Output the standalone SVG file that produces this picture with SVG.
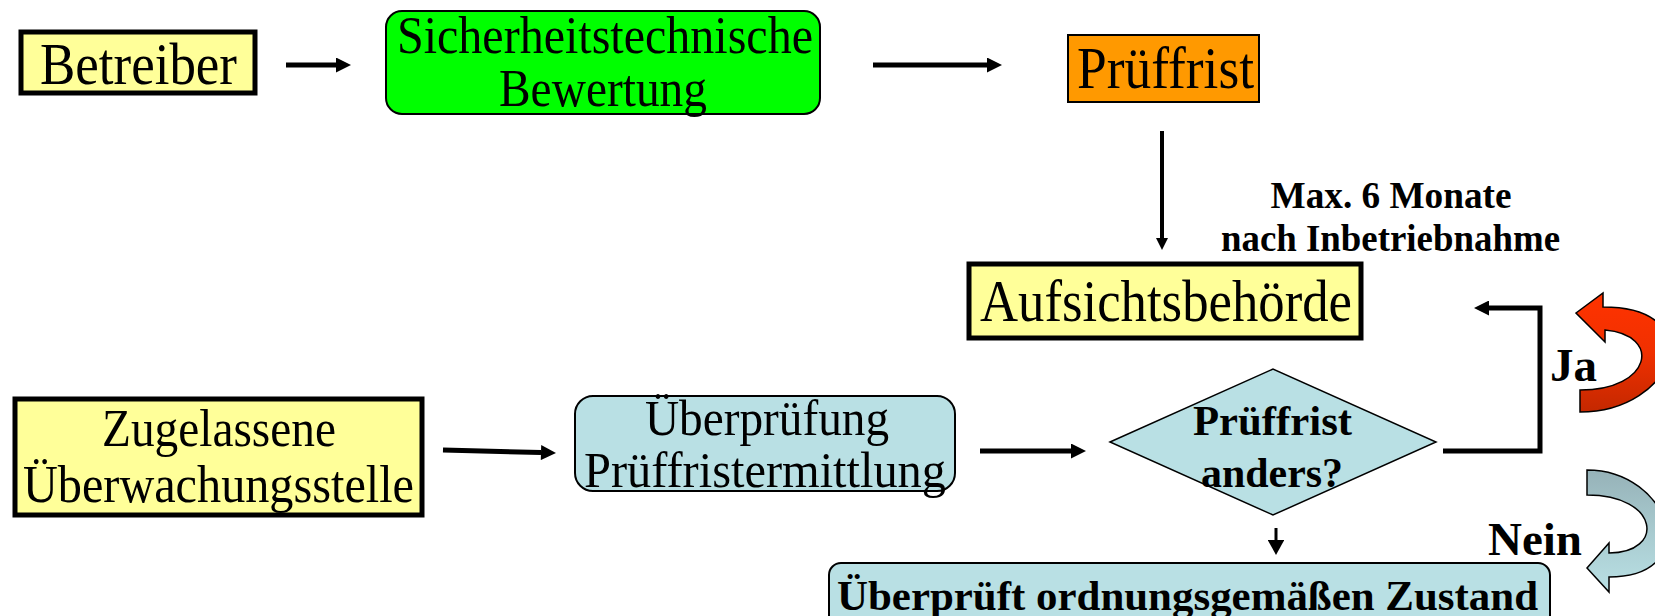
<svg xmlns="http://www.w3.org/2000/svg" width="1655" height="616" viewBox="0 0 1655 616">
<style>
.t{font-family:"Liberation Serif","Times New Roman",serif;fill:#000;text-anchor:middle}
.b{font-weight:bold}
.thick{stroke:#000;stroke-width:5}
.thin{stroke:#000;stroke-width:2}
.con{fill:none;stroke:#000}
</style>
<defs>
<marker id="ah" viewBox="0 0 10 10" refX="0" refY="5" markerWidth="3.2" markerHeight="3" orient="auto" markerUnits="strokeWidth">
<path d="M0,0 L10,5 L0,10 Z" fill="#000"/>
</marker>
<marker id="ahs" viewBox="0 0 10 10" refX="0" refY="5" markerWidth="5" markerHeight="5.5" orient="auto" markerUnits="strokeWidth" preserveAspectRatio="none">
<path d="M0,0 L10,5 L0,10 Z" fill="#000"/>
</marker>
<linearGradient id="red" x1="0" y1="0" x2="0" y2="1">
<stop offset="0" stop-color="#FF3300"/>
<stop offset="0.5" stop-color="#F03000"/>
<stop offset="1" stop-color="#C42800"/>
</linearGradient>
<linearGradient id="blu" x1="0" y1="0" x2="0" y2="1">
<stop offset="0" stop-color="#96B2B8"/>
<stop offset="0.5" stop-color="#A8CACF"/>
<stop offset="1" stop-color="#B9E0E4"/>
</linearGradient>
</defs>

<g id="connectors">
<path class="con" stroke-width="5" d="M286,65 H336" marker-end="url(#ah)"/>
<path class="con" stroke-width="5" d="M873,65 H987" marker-end="url(#ah)"/>
<path class="con" stroke-width="4" d="M1162,131 V238" marker-end="url(#ah)"/>
<path class="con" stroke-width="5" d="M443,450 L541,452.6" marker-end="url(#ah)"/>
<path class="con" stroke-width="5" d="M980,451 H1071" marker-end="url(#ah)"/>
<path class="con" stroke-width="5" d="M1443,451 H1540 V308 H1489" marker-end="url(#ah)"/>
<path class="con" stroke-width="3" d="M1276,528 V540" marker-end="url(#ahs)"/>
</g>

<g id="betreiber">
<rect x="21" y="32" width="234" height="61" fill="#FFFF99" class="thick"/>
<text class="t" x="138.5" y="84" font-size="59" textLength="197" lengthAdjust="spacingAndGlyphs">Betreiber</text>
</g>

<g id="bewertung">
<rect x="386" y="11" width="434" height="103" rx="16" fill="#00FF00" class="thin"/>
<text class="t" x="605" y="53" font-size="52" textLength="416" lengthAdjust="spacingAndGlyphs">Sicherheitstechnische</text>
<text class="t" x="603" y="106" font-size="52" textLength="208" lengthAdjust="spacingAndGlyphs">Bewertung</text>
</g>

<g id="prueffrist">
<rect x="1068" y="35" width="191" height="67" fill="#FF9900" class="thin"/>
<text class="t" x="1165.5" y="88" font-size="59" textLength="177" lengthAdjust="spacingAndGlyphs">Prüffrist</text>
</g>

<g id="label-max">
<text class="t b" x="1391" y="208" font-size="37" textLength="241" lengthAdjust="spacingAndGlyphs">Max. 6 Monate</text>
<text class="t b" x="1390.5" y="251" font-size="37" textLength="339" lengthAdjust="spacingAndGlyphs">nach Inbetriebnahme</text>
</g>

<g id="aufsicht">
<rect x="969" y="264" width="392" height="74" fill="#FFFF99" class="thick"/>
<text class="t" x="1166" y="321" font-size="59" textLength="372" lengthAdjust="spacingAndGlyphs">Aufsichtsbehörde</text>
</g>

<g id="zugelassene">
<rect x="15" y="399" width="407" height="116" fill="#FFFF99" class="thick"/>
<text class="t" x="219" y="446" font-size="52" textLength="234" lengthAdjust="spacingAndGlyphs">Zugelassene</text>
<text class="t" x="218.5" y="502" font-size="52" textLength="391" lengthAdjust="spacingAndGlyphs">Überwachungsstelle</text>
</g>

<g id="ueberpruefung">
<rect x="575" y="396" width="380" height="95" rx="18" fill="#B9E0E4" class="thin"/>
<text class="t" x="767" y="435" font-size="51" textLength="244" lengthAdjust="spacingAndGlyphs">Überprüfung</text>
<text class="t" x="765" y="487" font-size="51" textLength="362" lengthAdjust="spacingAndGlyphs">Prüffristermittlung</text>
</g>

<g id="entscheidung">
<polygon points="1110,442 1273,369 1436,442 1273,515" fill="#B9E0E4" stroke="#000" stroke-width="1.5"/>
<text class="t b" x="1272.5" y="435" font-size="43" textLength="159" lengthAdjust="spacingAndGlyphs">Prüffrist</text>
<text class="t b" x="1272" y="487" font-size="43" textLength="142" lengthAdjust="spacingAndGlyphs">anders?</text>
</g>

<g id="zustand">
<rect x="829" y="563" width="721" height="70" rx="12" fill="#B9E0E4" class="thin"/>
<text class="t b" x="1187.5" y="610" font-size="43" textLength="701" lengthAdjust="spacingAndGlyphs">Überprüft ordnungsgemäßen Zustand</text>
</g>

<g id="ja">
<path d="M1580,412 C1675,412 1712,307 1603,307 L1603,293 L1576,313 L1605,342 L1605,330 C1662,335 1652,390 1580,390 Z" fill="url(#red)" stroke="#000" stroke-width="1.5"/>
<text class="t b" x="1550" y="381" font-size="46" style="text-anchor:start" textLength="47" lengthAdjust="spacingAndGlyphs">Ja</text>
</g>

<g id="nein">
<path d="M1587,470 C1670,470 1705,577 1609,577 L1609,592 L1587,568 L1609,543 L1609,553 C1665,553 1660,495 1587,495 Z" fill="url(#blu)" stroke="#000" stroke-width="1.5"/>
<text class="t b" x="1488" y="555" font-size="47" style="text-anchor:start" textLength="94" lengthAdjust="spacingAndGlyphs">Nein</text>
</g>
</svg>
